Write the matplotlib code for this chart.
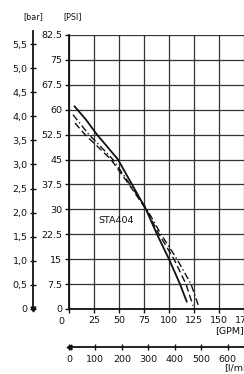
import numpy as np
import matplotlib
matplotlib.use("Agg")
import matplotlib.pyplot as plt

# curve data (flow in GPM, pressure in PSI)
solid_gpm = [5, 17, 28, 39, 49, 63, 77, 88, 100, 111, 118]
solid_psi = [61.2, 57.0, 52.5, 48.6, 45.0, 37.5, 30.0, 22.5, 15.0, 7.5, 2.0]
dash_gpm = [6, 16, 30, 42, 60, 77, 90, 105, 117, 124]
dash_psi = [56.0, 52.5, 48.5, 45.0, 37.5, 30.0, 22.5, 15.0, 7.5, 1.0]
dashdot_gpm = [4, 20, 32, 44, 61, 78, 92, 108, 122, 130]
dashdot_psi = [58.5, 52.5, 48.8, 45.0, 37.5, 30.0, 22.5, 15.0, 7.5, 0.5]

psi_ticks = [0, 7.5, 15, 22.5, 30, 37.5, 45, 52.5, 60, 67.5, 75, 82.5]
psi_labels = ['0', '7.5', '15', '22.5', '30', '37.5', '45', '52.5', '60', '67.5', '75', '82.5']
gpm_ticks = [0, 25, 50, 75, 100, 125, 150, 175]
bar_ticks = [0, 0.5, 1.0, 1.5, 2.0, 2.5, 3.0, 3.5, 4.0, 4.5, 5.0, 5.5]
bar_labels = ['0', '0,5', '1,0', '1,5', '2,0', '2,5', '3,0', '3,5', '4,0', '4,5', '5,0', '5,5']
lmin_ticks = [0, 100, 200, 300, 400, 500, 600, 700]

W, H = 244, 374
fig = plt.figure(figsize=(W / 100, H / 100), dpi=100)
fig.patch.set_facecolor('white')

def px(x0, y_top, w, h):
    # pixel box -> figure fraction
    return [x0 / W, 1 - (y_top + h) / H, w / W, h / H]

fs = 6.8
col = '#111111'

# main chart: 0 GPM at x=69, 1 px per GPM; 0 PSI at y=309, 82.5 PSI at y=35
ax = fig.add_axes(px(69, 35, 200, 274))
ax.set_xlim(0, 200)
ax.set_ylim(0, 82.5)
for s in ['top', 'right']:
    ax.spines[s].set_visible(False)
for s in ['left', 'bottom']:
    ax.spines[s].set_linewidth(1.3)
    ax.spines[s].set_color(col)
ax.set_yticks(psi_ticks)
ax.set_yticklabels(psi_labels)
ax.set_xticks(gpm_ticks)
ax.set_xticklabels([''] + [str(t) for t in gpm_ticks[1:]])
ax.tick_params(axis='both', direction='out', length=3, width=1, colors=col,
               labelsize=fs, pad=2)
ax.grid(True, color='#333333', linewidth=0.9)
ax.set_axisbelow(True)
ax.text(-8, -2.4, '0', fontsize=fs, ha='center', va='top', color=col, clip_on=False)

ax.plot(solid_gpm, solid_psi, color=col, linewidth=1.3, solid_capstyle='butt')
ax.plot(dash_gpm, dash_psi, color=col, linewidth=1.0, linestyle=(0, (5, 2.5)))
ax.plot(dashdot_gpm, dashdot_psi, color=col, linewidth=1.0,
        linestyle=(0, (5, 2, 1, 2)))

ax.text(29, 26.5, 'STA404', fontsize=fs, color=col, ha='left', va='center')

# bar scale on the far left, spine at x=33
top_bar = 82.5 / 14.5038 + 4 / 3.321 / 14.5038
bax = fig.add_axes(px(33, 309 - top_bar * 14.5038 * 3.321, 1, top_bar * 14.5038 * 3.321))
bax.set_ylim(0, top_bar)
bax.set_xlim(0, 1)
bax.patch.set_visible(False)
for s in ['top', 'right', 'bottom']:
    bax.spines[s].set_visible(False)
bax.spines['left'].set_linewidth(1.3)
bax.spines['left'].set_color(col)
bax.set_xticks([])
bax.set_yticks(bar_ticks)
bax.set_yticklabels(bar_labels)
bax.tick_params(axis='y', direction='inout', length=5, width=1, colors=col,
                labelsize=fs, pad=1.5)
bax.plot([0], [0], marker='v', color=col, markersize=3.5, clip_on=False)

# l/min scale underneath, line at y=347
lax = fig.add_axes(px(69, 346, 200, 1))
lax.set_xlim(0, 200 * 3.78541)
lax.set_ylim(0, 1)
lax.patch.set_visible(False)
for s in ['top', 'right', 'left']:
    lax.spines[s].set_visible(False)
lax.spines['bottom'].set_linewidth(1.3)
lax.spines['bottom'].set_color(col)
lax.set_yticks([])
lax.set_xticks(lmin_ticks)
lax.tick_params(axis='x', direction='inout', length=5, width=1, colors=col,
                labelsize=fs, pad=3)
lax.plot([0], [0], marker='<', color=col, markersize=3.5, clip_on=False)

# unit labels (the reference itself is cropped at the right edge)
fig.text(23 / W, 1 - 17 / H, '[bar]', fontsize=5.8, color=col, ha='left', va='center')
fig.text(63 / W, 1 - 17 / H, '[PSI]', fontsize=5.8, color=col, ha='left', va='center')
fig.text(215 / W, 1 - 331 / H, '[GPM]', fontsize=fs, color=col, ha='left', va='center')
fig.text(224 / W, 1 - 368 / H, '[l/min]', fontsize=fs, color=col, ha='left', va='center')

fig.savefig('out.png', dpi=100, facecolor='white')
